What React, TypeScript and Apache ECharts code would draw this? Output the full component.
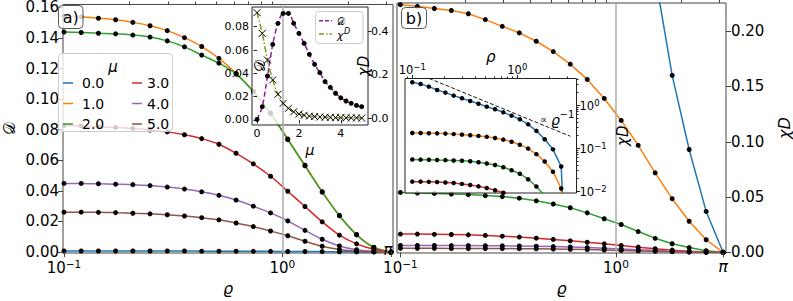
import React, { useEffect, useRef } from "react";
import * as echarts from "echarts";

// ---------- data ----------
const rho = [0.1, 0.11989, 0.14375, 0.17235, 0.20664, 0.24775, 0.29704, 0.35614, 0.42699, 0.51194, 0.61379, 0.7359, 0.88231, 1.05784, 1.2683, 1.52063, 1.82316, 2.18588, 2.62076, 3.14159];
const muLabels = ["0.0", "1.0", "2.0", "3.0", "4.0", "5.0"];
const colors = ["#1f77b4", "#ff7f0e", "#2ca02c", "#d62728", "#9467bd", "#8c564b"];

// panel a: D vs rho
const D_mu0 = [0.0007, 0.0007, 0.0007, 0.0007, 0.0007, 0.0007, 0.0007, 0.0007, 0.0006, 0.0006, 0.0006, 0.0005, 0.0005, 0.0004, 0.0004, 0.0003, 0.0002, 0.0001, 0.0001, 0];
const D_mu1 = [0.1544, 0.1538, 0.1529, 0.1519, 0.1502, 0.148, 0.1448, 0.1402, 0.1344, 0.1267, 0.1169, 0.1052, 0.091, 0.074, 0.0568, 0.0395, 0.024, 0.0115, 0.0032, 0];
const D_mu2 = [0.1439, 0.1436, 0.1431, 0.1427, 0.1419, 0.1406, 0.1381, 0.1342, 0.1288, 0.1235, 0.1164, 0.105, 0.0906, 0.0735, 0.0564, 0.0392, 0.0237, 0.0112, 0.003, 0];
const D_mu3 = [0.0827, 0.0825, 0.0819, 0.0815, 0.0809, 0.0798, 0.0786, 0.0767, 0.0742, 0.0705, 0.0646, 0.0577, 0.0496, 0.0398, 0.0298, 0.0198, 0.0111, 0.0054, 0.0018, 0];
const D_mu4 = [0.0449, 0.0449, 0.0447, 0.0444, 0.0441, 0.0435, 0.0425, 0.0412, 0.0394, 0.0371, 0.034, 0.03, 0.0256, 0.0204, 0.0142, 0.0084, 0.004, 0.0015, 0.0005, 0];
const D_mu5 = [0.0261, 0.0261, 0.026, 0.0258, 0.0254, 0.025, 0.0244, 0.0236, 0.0225, 0.0211, 0.019, 0.0167, 0.0138, 0.0107, 0.0071, 0.0038, 0.0017, 0.0006, 0.0001, 0];

// panel b: chi_D vs rho
const C_mu0 = [3.37, 3.08, 2.67, 2.23, 1.94, 1.65, 1.43, 1.24, 1.07, 0.914, 0.793, 0.675, 0.565, 0.465, 0.355, 0.25, 0.16, 0.093, 0.037, 0];
const C_mu1 = [0.224, 0.2225, 0.2205, 0.2187, 0.2158, 0.2105, 0.2044, 0.1985, 0.1909, 0.1816, 0.1702, 0.1564, 0.1392, 0.1193, 0.0968, 0.0719, 0.0485, 0.0281, 0.0114, 0];
const C_mu2 = [0.0542, 0.0536, 0.0533, 0.0527, 0.0522, 0.0513, 0.0504, 0.049, 0.0466, 0.0437, 0.0403, 0.0357, 0.0304, 0.0252, 0.0188, 0.0127, 0.0078, 0.0043, 0.0014, 0];
const C_mu3 = [0.0165, 0.0165, 0.0163, 0.0161, 0.0158, 0.0153, 0.0146, 0.0138, 0.0128, 0.0117, 0.0104, 0.0091, 0.0077, 0.0062, 0.0047, 0.0033, 0.002, 0.001, 0.0003, 0];
const C_mu4 = [0.0062, 0.0062, 0.0062, 0.0061, 0.0061, 0.006, 0.0059, 0.0057, 0.0055, 0.0052, 0.0048, 0.0043, 0.0037, 0.003, 0.0023, 0.0016, 0.001, 0.0005, 0.0002, 0];
const C_mu5 = [0.0036, 0.0036, 0.0036, 0.0035, 0.0035, 0.0035, 0.0034, 0.0033, 0.0032, 0.003, 0.0028, 0.0025, 0.0021, 0.0017, 0.0013, 0.0009, 0.0006, 0.0003, 0.0001, 0];

// inset a: D and chi_D vs mu
const muGrid = [0, 0.25, 0.5, 0.75, 1, 1.25, 1.5, 1.75, 2, 2.25, 2.5, 2.75, 3, 3.25, 3.5, 3.75, 4, 4.25, 4.5, 4.75, 5];
const D_vs_mu = [0.0005, 0.0114, 0.0377, 0.0649, 0.0829, 0.0914, 0.0914, 0.0829, 0.0743, 0.0657, 0.0563, 0.0477, 0.0406, 0.0329, 0.028, 0.0229, 0.019, 0.0163, 0.0143, 0.0125, 0.0114];
const chi_vs_mu = [0.488, 0.392, 0.269, 0.177, 0.111, 0.069, 0.046, 0.03, 0.02, 0.014, 0.01, 0.008, 0.006, 0.005, 0.004, 0.003, 0.003, 0.002, 0.002, 0.002, 0.001];

// inset b: reference line ∝ rho^-1
const refRho = [0.1, 3.2];
const refChi = [6.0, 0.1875];

// ticks
const xMajorA = [0.1, 1, Math.PI];
const xLabelsA = [0.1, 1];
const xMajorB = [0.1, 1, Math.PI];
const xMinor = [0.2, 0.3, 0.4, 0.5, 0.6, 0.7, 0.8, 0.9, 2, 3];
const yTicksA = [0, 0.02, 0.04, 0.06, 0.08, 0.1, 0.12, 0.14, 0.16];
const yTicksB = [0, 0.05, 0.1, 0.15, 0.2];
const insetAX = [0, 2, 4];
const insetAYL = [0, 0.02, 0.04, 0.06, 0.08];
const insetAYR = [0, 0.2, 0.4];
const insetBX = [0.1, 1];
const insetBXMinor = [0.09, 0.2, 0.3, 0.4, 0.5, 0.6, 0.7, 0.8, 0.9, 2, 3];
const insetBY = [0.01, 0.1, 1];
const insetBYMinor = [0.02, 0.03, 0.04, 0.05, 0.06, 0.07, 0.08, 0.09, 0.2, 0.3, 0.4, 0.5, 0.6, 0.7, 0.8, 0.9, 2, 3, 4];

const D_all = [D_mu0, D_mu1, D_mu2, D_mu3, D_mu4, D_mu5];
const C_all = [C_mu0, C_mu1, C_mu2, C_mu3, C_mu4, C_mu5];

const FONT = "DejaVu Sans";
const SPINE = "#444";

function supLabel(v: number): string {
  if (Math.abs(v - Math.PI) < 1e-3) return "{i|π}";
  const e = Math.round(Math.log10(v));
  return "{b|10}{s|" + (e < 0 ? "\u2212" + -e : String(e)) + "}";
}
function rich(base: number, sup: number) {
  return {
    b: { fontSize: base, fontFamily: FONT, color: "#000", verticalAlign: "bottom", lineHeight: base + 2 },
    s: { fontSize: sup, fontFamily: FONT, color: "#000", verticalAlign: "top", lineHeight: sup },
    i: { fontSize: base + 1, fontFamily: FONT, fontStyle: "italic", color: "#000", lineHeight: base + 2 },
  };
}

function buildOption() {
  const mainSeries = (arrs: number[][], xi: number, yi: number, smooth: boolean, logY: boolean, z: number) =>
    arrs.map((arr, i) => ({
      type: "line",
      name: muLabels[i],
      xAxisIndex: xi,
      yAxisIndex: yi,
      data: rho.map((r, j) => [r, logY ? (arr[j] > 0 ? arr[j] : 1e-6) : arr[j]]),
      smooth: smooth ? 0.3 : false,
      symbol: "circle",
      symbolSize: logY ? 4.5 : 5,
      showSymbol: true,
      itemStyle: { color: "#000" },
      lineStyle: { color: colors[i], width: 1.5 },
      z,
      silent: true,
      emphasis: { disabled: true },
    }));

  const refLine = (xi: number, yi: number) => ({
    type: "line",
    xAxisIndex: xi,
    yAxisIndex: yi,
    data: [],
    z: 1,
    silent: true,
    markLine: {
      silent: true,
      symbol: ["none", "none"],
      label: { show: false },
      lineStyle: { color: "#b0b0b0", width: 1.6, type: "solid" },
      data: [{ xAxis: 1 }],
    },
  });

  const mainTickLabel = { fontSize: 15, fontFamily: FONT, color: "#000", lineHeight: 12 };

  const legendEls: any[] = [];
  legendEls.push({
    type: "rect", z: 10,
    shape: { x: 58.5, y: 53.5, width: 114, height: 78, r: 4 },
    style: { fill: "rgba(255,255,255,0.8)", stroke: "#cccccc", lineWidth: 1 },
  });
  legendEls.push({
    type: "text", z: 11, x: 113, y: 67,
    style: { text: "μ", font: "italic 15px DejaVu Sans", fill: "#000", align: "center", verticalAlign: "middle", textAlign: "center", textVerticalAlign: "middle" },
  });
  muLabels.forEach((lab, i) => {
    const col = Math.floor(i / 3);
    const row = i % 3;
    const y = 83 + row * 20.5;
    const lx = col === 0 ? 63 : 132;
    const tx = col === 0 ? 82 : 147;
    legendEls.push({ type: "line", z: 11, shape: { x1: lx, y1: y, x2: lx + 10, y2: y }, style: { stroke: colors[i], lineWidth: 1.5 } });
    legendEls.push({
      type: "text", z: 11, x: tx, y,
      style: { text: lab, font: "14px DejaVu Sans", fill: "#000", align: "left", verticalAlign: "middle", textAlign: "left", textVerticalAlign: "middle" },
    });
  });

  const txt = (text: string, x: number, y: number, font: string, align = "center", z = 11) => ({
    type: "text", z, x, y,
    style: { text, font, fill: "#000", align, verticalAlign: "middle", textAlign: align, textVerticalAlign: "middle" },
  });

  const graphic: any[] = [
    ...legendEls,
    { type: "rect", z: 10, shape: { x: 58.5, y: 5.5, width: 24.5, height: 23, r: 4 }, style: { fill: "rgba(255,255,255,0.8)", stroke: "#555", lineWidth: 1 } },
    txt("a)", 70.75, 17, "16px DejaVu Sans"),
    { type: "rect", z: 10, shape: { x: 401.5, y: 7.5, width: 25, height: 21, r: 4 }, style: { fill: "rgba(255,255,255,0.8)", stroke: "#555", lineWidth: 1 } },
    txt("b)", 414, 18, "16px DejaVu Sans"),
    txt("π", 388, 250, "italic 15px DejaVu Sans"),
    // inset a legend
    { type: "rect", z: 10, shape: { x: 315.5, y: 11.5, width: 47.5, height: 32, r: 3 }, style: { fill: "rgba(255,255,255,0.8)", stroke: "#cccccc", lineWidth: 1 } },
    { type: "line", z: 11, shape: { x1: 319, y1: 20.7, x2: 332, y2: 20.7 }, style: { stroke: "#9a1a9a", lineWidth: 1.5, lineDash: [4, 2] } },
    { type: "line", z: 11, shape: { x1: 319, y1: 34, x2: 332, y2: 34 }, style: { stroke: "#7a9a20", lineWidth: 1.5, lineDash: [5, 2, 1.5, 2] } },
    txt("𝒟", 337, 21, "10px DejaVu Sans", "left"),
    txt("χ", 337, 35, "italic 11px DejaVu Sans", "left"),
    txt("D", 344, 31, "italic 8px DejaVu Sans", "left"),
    // inset b annotation
    txt("∝", 540, 119, "10px DejaVu Sans", "left"),
    txt("ϱ", 551, 120, "italic 14px DejaVu Sans", "left"),
    txt("\u22121", 559.5, 114, "10px DejaVu Sans", "left"),
  ];

  const series: any[] = [
    refLine(0, 0),
    ...mainSeries(D_all, 0, 0, true, false, 2),
    refLine(2, 1),
    ...mainSeries(C_all, 2, 1, false, false, 2),
    {
      type: "line", xAxisIndex: 4, yAxisIndex: 2, z: 7, silent: true,
      data: muGrid.map((m, i) => [m, D_vs_mu[i]]),
      smooth: 0.3, symbol: "circle", symbolSize: 5, itemStyle: { color: "#000" },
      lineStyle: { color: "#9a1a9a", width: 1.5, type: [5, 3] },
    },
    {
      type: "line", xAxisIndex: 4, yAxisIndex: 3, z: 7, silent: true,
      data: muGrid.map((m, i) => [m, chi_vs_mu[i]]),
      smooth: 0.3, symbol: "path://M0,0L10,10M10,0L0,10", symbolSize: 7,
      itemStyle: { color: "none", borderColor: "#000", borderWidth: 1 },
      lineStyle: { color: "#7a9a20", width: 1.5, type: [6, 2, 1.5, 2] },
    },
    ...mainSeries(C_all, 5, 4, false, true, 7),
    {
      type: "line", xAxisIndex: 5, yAxisIndex: 4, z: 7, silent: true,
      data: refRho.map((r, i) => [r, refChi[i]]),
      symbol: "none", lineStyle: { color: "#000", width: 0.9, type: [4, 2] },
    },
  ];

  const hidden = { show: false };
  const nm = { nameMoveOverlap: false };
  return {
    animation: false,
    backgroundColor: "#fff",
    grid: [
      { left: 57, top: 3, width: 336, height: 260, show: true, borderColor: SPINE, borderWidth: 1, backgroundColor: "#fff", z: 0 },
      { left: 397, top: 3, width: 340, height: 260, show: true, borderColor: SPINE, borderWidth: 1, backgroundColor: "#fff", z: 0 },
      { left: 252, top: 7, width: 116, height: 118, show: true, borderColor: "#222", borderWidth: 1, backgroundColor: "rgba(255,255,255,0.8)", z: 5 },
      { left: 405, top: 78.5, width: 171.5, height: 114.5, show: true, borderColor: "#222", borderWidth: 1, backgroundColor: "rgba(255,255,255,0.8)", z: 5 },
    ],
    xAxis: [
      {
        type: "log", gridIndex: 0, min: 0.09897, max: 3.2072, z: 3, ...nm,
        axisLine: hidden, splitLine: hidden,
        axisTick: { customValues: xMajorA, length: 5, lineStyle: { color: SPINE } },
        axisLabel: { customValues: xLabelsA, formatter: supLabel, rich: rich(15, 10.5), margin: 5 },
        name: "ϱ", nameLocation: "middle", nameGap: 27,
        nameTextStyle: { fontFamily: FONT, fontStyle: "italic", fontSize: 16, color: "#000" },
      },
      {
        type: "log", gridIndex: 0, min: 0.09897, max: 3.2072, z: 3,
        axisLine: hidden, splitLine: hidden, axisLabel: hidden,
        axisTick: { customValues: xMinor, length: 3, lineStyle: { color: SPINE } },
      },
      {
        type: "log", gridIndex: 1, min: 0.09645, max: 3.2399, z: 3, ...nm,
        axisLine: hidden, splitLine: hidden,
        axisTick: { customValues: xMajorB, length: 5, lineStyle: { color: SPINE } },
        axisLabel: { customValues: xMajorB, formatter: supLabel, rich: rich(15, 10.5), margin: 5 },
        name: "ϱ", nameLocation: "middle", nameGap: 27,
        nameTextStyle: { fontFamily: FONT, fontStyle: "italic", fontSize: 16, color: "#000" },
      },
      {
        type: "log", gridIndex: 1, min: 0.09645, max: 3.2399, z: 3,
        axisLine: hidden, splitLine: hidden, axisLabel: hidden,
        axisTick: { customValues: xMinor, length: 3, lineStyle: { color: SPINE } },
      },
      {
        type: "value", gridIndex: 2, min: -0.24, max: 5.3, z: 6, ...nm,
        axisLine: hidden, splitLine: hidden,
        axisTick: { customValues: insetAX, length: 3.5, lineStyle: { color: "#222" } },
        axisLabel: { customValues: insetAX, fontSize: 11, fontFamily: FONT, color: "#000", margin: 3 },
        name: "μ", nameLocation: "middle", nameGap: 18,
        nameTextStyle: { fontFamily: FONT, fontStyle: "italic", fontSize: 14, color: "#000" },
      },
      {
        type: "log", gridIndex: 3, position: "top", min: 0.0852, max: 3.664, z: 6, ...nm,
        axisLine: hidden, splitLine: hidden,
        axisTick: { customValues: insetBX, length: 3.5, lineStyle: { color: "#222" } },
        axisLabel: { customValues: insetBX, formatter: supLabel, rich: rich(11.5, 8.5), margin: 3 },
        name: "ρ", nameLocation: "middle", nameGap: 14,
        nameTextStyle: { fontFamily: FONT, fontStyle: "italic", fontSize: 15, color: "#000" },
      },
      {
        type: "log", gridIndex: 3, position: "top", min: 0.0852, max: 3.664, z: 6,
        axisLine: hidden, splitLine: hidden, axisLabel: hidden,
        axisTick: { customValues: insetBXMinor, length: 2, lineStyle: { color: "#222" } },
      },
    ],
    yAxis: [
      {
        type: "value", gridIndex: 0, min: -0.0006, max: 0.1619, z: 3, ...nm,
        axisLine: hidden, splitLine: hidden,
        axisTick: { customValues: yTicksA, length: 5, lineStyle: { color: SPINE } },
        axisLabel: { customValues: yTicksA, formatter: (v: number) => v.toFixed(2), ...mainTickLabel, margin: 4 },
        name: "𝒟", nameLocation: "middle", nameGap: 46, nameRotate: 90,
        nameTextStyle: { fontFamily: FONT, fontSize: 16, color: "#000" },
      },
      {
        type: "value", gridIndex: 1, position: "right", min: -0.0006, max: 0.2255, z: 3, ...nm,
        axisLine: hidden, splitLine: hidden,
        axisTick: { customValues: yTicksB, length: 5, lineStyle: { color: SPINE } },
        axisLabel: { customValues: yTicksB, formatter: (v: number) => v.toFixed(2), ...mainTickLabel, margin: 5 },
        name: "χD", nameLocation: "middle", nameGap: 50, nameRotate: 90,
        nameTextStyle: { fontFamily: FONT, fontStyle: "italic", fontSize: 16, color: "#000" },
      },
      {
        type: "value", gridIndex: 2, position: "left", min: -0.0043, max: 0.0969, z: 6, ...nm,
        axisLine: hidden, splitLine: hidden,
        axisTick: { customValues: insetAYL, length: 3.5, lineStyle: { color: "#222" } },
        axisLabel: { customValues: insetAYL, formatter: (v: number) => v.toFixed(2), fontSize: 11, fontFamily: FONT, color: "#000", margin: 3 },
        name: "𝒟", nameLocation: "middle", nameGap: -15, nameRotate: 90,
        nameTextStyle: { fontFamily: FONT, fontSize: 15, color: "#000" },
      },
      {
        type: "value", gridIndex: 2, position: "right", min: -0.031, max: 0.514, z: 6, ...nm,
        axisLine: hidden, splitLine: hidden,
        axisTick: { customValues: insetAYR, length: 3.5, lineStyle: { color: "#222" } },
        axisLabel: { customValues: insetAYR, formatter: (v: number) => v.toFixed(1), fontSize: 11, fontFamily: FONT, color: "#000", margin: 3 },
        name: "χD", nameLocation: "middle", nameGap: -12, nameRotate: 90,
        nameTextStyle: { fontFamily: FONT, fontStyle: "italic", fontSize: 15, color: "#000" },
      },
      {
        type: "log", gridIndex: 3, position: "right", min: 0.00898, max: 4.13, z: 6, ...nm,
        axisLine: hidden, splitLine: hidden,
        axisTick: { customValues: insetBY, length: 3.5, lineStyle: { color: "#222" } },
        axisLabel: { customValues: insetBY, formatter: supLabel, rich: rich(11.5, 8.5), margin: 3 },
        name: "χD", nameLocation: "middle", nameGap: 39, nameRotate: 90,
        nameTextStyle: { fontFamily: FONT, fontStyle: "italic", fontSize: 15, color: "#000" },
      },
      {
        type: "log", gridIndex: 3, position: "right", min: 0.00898, max: 4.13, z: 6,
        axisLine: hidden, splitLine: hidden, axisLabel: hidden,
        axisTick: { customValues: insetBYMinor, length: 2, lineStyle: { color: "#222" } },
      },
    ],
    graphic,
    series,
  };
}

export default function App() {
  const ref = useRef<HTMLDivElement>(null);
  useEffect(() => {
    if (!ref.current) return;
    const chart = echarts.init(ref.current, undefined, { renderer: "svg" });
    chart.setOption(buildOption() as any);
    return () => chart.dispose();
  }, []);
  return (
    <div
      ref={ref}
      style={{ position: "fixed", left: 0, top: 0, width: 793, height: 301, background: "#fff" }}
    />
  );
}
